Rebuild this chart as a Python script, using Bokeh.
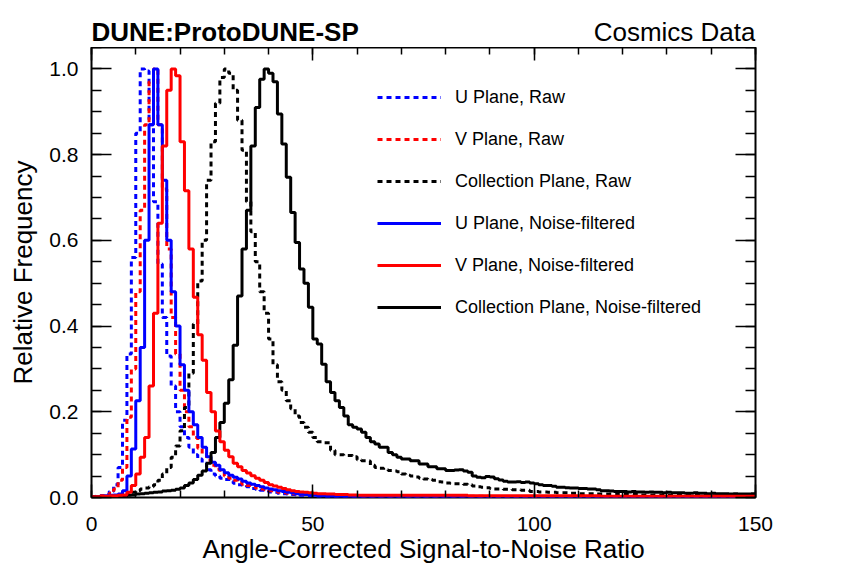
from bokeh.plotting import figure
from bokeh.models import (ColumnDataSource, Legend, LegendItem, LinearAxis, FixedTicker,
                          NumeralTickFormatter, Range1d)
from bokeh.layouts import column
from bokeh.core.properties import value
from bokeh.embed import file_html
from bokeh.resources import INLINE

# ---------------- data (bin width 1, bins 0..149) ----------------
bin_edges = list(range(0, 151))

u_raw = [0.002,0.003,0.004,0.007,0.014,0.03,0.07,0.18,0.335,0.56,
         0.85,1.0,0.995,0.87,0.69,0.545,0.42,0.33,0.26,0.2,
         0.165,0.14,0.117,0.1,0.09,0.08,0.065,0.055,0.05,0.045,
         0.042,0.038,0.033,0.03,0.028,0.025,0.021,0.019,0.017,0.015,
         0.013,0.012,0.01,0.009,0.008,0.007,0.006,0.005,0.004,0.004,
         0.003,0.003,0.002,0.002,0.002,0.001,0.001,0.001,0.001,0.001] + [0.0] * 90

v_raw = [0.002,0.003,0.004,0.006,0.01,0.02,0.04,0.07,0.187,0.3,
         0.48,0.67,0.87,0.97,1.0,0.87,0.72,0.58,0.42,0.335,
         0.25,0.2,0.165,0.14,0.115,0.1,0.087,0.075,0.066,0.058,
         0.05,0.045,0.04,0.035,0.031,0.028,0.025,0.022,0.02,0.018,
         0.016,0.014,0.012,0.011,0.01,0.009,0.008,0.008,0.007,0.007,
         0.006,0.006,0.005,0.005,0.005,0.004,0.004,0.004,0.004,0.004] + [0.003] * 30 + [0.002] * 60

c_raw = [0.001,0.002,0.002,0.003,0.003,0.004,0.004,0.005,0.008,0.012,
         0.016,0.02,0.022,0.025,0.03,0.04,0.055,0.07,0.094,0.12,
         0.156,0.21,0.29,0.405,0.505,0.6,0.74,0.83,0.92,0.98,
         1.0,0.99,0.95,0.88,0.81,0.69,0.62,0.55,0.48,0.43,
         0.37,0.31,0.27,0.25,0.226,0.207,0.19,0.175,0.164,0.152,
         0.14,0.13,0.128,0.128,0.11,0.1,0.1,0.098,0.098,0.095,
         0.088,0.086,0.085,0.075,0.07,0.068,0.065,0.063,0.062,0.06,
         0.055,0.052,0.05,0.048,0.045,0.043,0.042,0.04,0.037,0.036,
         0.034,0.033,0.032,0.032,0.031,0.03,0.027,0.025,0.024,0.023,
         0.021,0.02,0.02,0.019,0.019,0.018,0.018,0.017,0.017,0.014,
         0.014,0.013,0.013,0.012,0.012,0.011,0.011,0.011,0.01,0.01,
         0.009,0.009,0.009,0.009,0.008,0.008,0.008,0.008,0.008,0.007,
         0.007,0.007,0.007,0.007,0.006,0.006,0.006,0.006,0.006,0.006,
         0.005,0.005,0.005,0.005,0.005,0.005,0.005,0.005,0.005,0.005,
         0.004,0.004,0.004,0.004,0.004,0.004,0.004,0.004,0.004,0.004]

u_nf = [0.002,0.002,0.003,0.004,0.005,0.006,0.008,0.016,0.05,0.113,
        0.226,0.35,0.6,0.87,1.0,0.87,0.74,0.6,0.48,0.4,
        0.31,0.25,0.2,0.17,0.14,0.117,0.095,0.082,0.075,0.065,
        0.058,0.052,0.047,0.043,0.038,0.034,0.031,0.028,0.025,0.022,
        0.02,0.018,0.016,0.014,0.012,0.011,0.009,0.008,0.007,0.006,
        0.005,0.004,0.004,0.003,0.003,0.002,0.002,0.001,0.001,0.001] + [0.0] * 90

v_nf = [0.002,0.002,0.003,0.003,0.004,0.004,0.005,0.006,0.012,0.028,
        0.055,0.094,0.14,0.26,0.43,0.64,0.82,0.95,1.0,0.984,
        0.83,0.716,0.58,0.467,0.38,0.32,0.245,0.2,0.155,0.13,
        0.11,0.095,0.08,0.072,0.063,0.057,0.051,0.045,0.04,0.035,
        0.03,0.027,0.024,0.021,0.018,0.016,0.014,0.013,0.012,0.011,
        0.01,0.009,0.009,0.008,0.008,0.007,0.007,0.007,0.006,0.006] + [0.005] * 25 + [0.004] * 30 + [0.003] * 35

c_nf = [0.001,0.001,0.001,0.002,0.002,0.002,0.003,0.003,0.005,0.006,
        0.008,0.009,0.01,0.011,0.012,0.013,0.015,0.016,0.017,0.019,
        0.022,0.028,0.034,0.042,0.052,0.062,0.08,0.105,0.14,0.175,
        0.22,0.275,0.355,0.47,0.58,0.67,0.82,0.91,0.976,1.0,
        0.99,0.97,0.895,0.825,0.747,0.665,0.595,0.533,0.5,0.444,
        0.37,0.358,0.311,0.27,0.245,0.226,0.21,0.19,0.17,0.164,
        0.16,0.152,0.14,0.13,0.125,0.117,0.117,0.105,0.1,0.094,
        0.09,0.09,0.086,0.086,0.078,0.078,0.072,0.072,0.067,0.067,
        0.063,0.063,0.064,0.065,0.062,0.059,0.05,0.047,0.046,0.049,
        0.048,0.044,0.041,0.038,0.036,0.036,0.037,0.035,0.036,0.034,
        0.032,0.03,0.028,0.028,0.026,0.024,0.024,0.023,0.022,0.022,
        0.021,0.021,0.02,0.02,0.018,0.016,0.016,0.015,0.014,0.014,
        0.014,0.013,0.014,0.013,0.013,0.012,0.013,0.012,0.012,0.011,
        0.012,0.011,0.011,0.011,0.01,0.01,0.011,0.01,0.01,0.009,
        0.01,0.009,0.009,0.009,0.008,0.009,0.008,0.008,0.008,0.009]

labels = ["U Plane, Raw", "V Plane, Raw", "Collection Plane, Raw",
          "U Plane, Noise-filtered", "V Plane, Noise-filtered",
          "Collection Plane, Noise-filtered"]
title_left = "DUNE:ProtoDUNE-SP"
title_right = "Cosmics Data"
x_title = "Angle-Corrected Signal-to-Noise Ratio"
y_title = "Relative Frequency"

x_ticks = [0, 50, 100, 150]
x_minor = list(range(0, 151, 10))
y_ticks = [0.0, 0.2, 0.4, 0.6, 0.8, 1.0]
y_minor = [round(i * 0.05, 2) for i in range(0, 22)]

FONT = "Liberation Sans"
W, H_HEAD, H_MAIN = 847, 47, 527

# ---------------- header (titles above the frame) ----------------
head = figure(width=W, height=H_HEAD, output_backend="svg", toolbar_location=None,
              x_range=Range1d(0, 150), y_range=Range1d(0, H_HEAD),
              min_border_left=91, min_border_right=92, min_border_top=0, min_border_bottom=0,
              x_axis_location=None, y_axis_location=None)
head.grid.visible = False
head.outline_line_color = None
head.text(x=[0], y=[16], text=[title_left], text_font=value(FONT), text_font_size="26px",
          text_font_style="bold", text_align="left", text_baseline="middle", text_color="black")
head.text(x=[150], y=[16], text=[title_right], text_font=value(FONT), text_font_size="26px",
          text_align="right", text_baseline="middle", text_color="black")

# ---------------- main plot ----------------
p = figure(width=W, height=H_MAIN, output_backend="svg", toolbar_location=None,
           x_range=Range1d(0, 150), y_range=Range1d(0, 1.05),
           min_border_left=91, min_border_right=92, min_border_top=0,
           min_border_bottom=77, x_axis_location=None, y_axis_location=None)
p.grid.visible = False
p.outline_line_color = "black"
p.outline_line_width = 2

def mk_axis(loc, ticks, minor, major_len, minor_len, show_labels, fmt=None):
    ax = LinearAxis(ticker=FixedTicker(ticks=ticks, minor_ticks=minor))
    ax.axis_line_color = None
    ax.major_tick_in = major_len
    ax.major_tick_out = 0
    ax.minor_tick_in = minor_len
    ax.minor_tick_out = 0
    ax.major_tick_line_color = "black"
    ax.minor_tick_line_color = "black"
    ax.major_tick_line_width = 1.5
    ax.minor_tick_line_width = 1.5
    if fmt is not None:
        ax.formatter = fmt
    if show_labels:
        ax.major_label_text_font = FONT
        ax.major_label_text_font_size = "21px"
        ax.major_label_text_color = "black"
    else:
        ax.major_label_text_font_size = "1px"
        ax.major_label_text_color = None
        ax.major_label_standoff = 0
    p.add_layout(ax, loc)
    return ax

xb = mk_axis("below", x_ticks, x_minor, 13, 7, True)
xb.major_label_standoff = 19
xb.axis_label = x_title
xb.axis_label_text_font = FONT
xb.axis_label_text_font_size = "26px"
xb.axis_label_text_font_style = "normal"
xb.axis_label_text_color = "black"
xb.axis_label_standoff = 0
mk_axis("above", x_ticks, x_minor, 13, 7, False)
yl = mk_axis("left", y_ticks, y_minor, 20, 10, True, NumeralTickFormatter(format="0.0"))
yl.major_label_standoff = 13
yl.axis_label = y_title
yl.axis_label_text_font = FONT
yl.axis_label_text_font_size = "26px"
yl.axis_label_text_font_style = "normal"
yl.axis_label_text_color = "black"
yl.axis_label_standoff = 8
mk_axis("right", y_ticks, y_minor, 20, 10, False)

def step_src(vals):
    return ColumnDataSource(dict(x=bin_edges, y=list(vals) + [vals[-1]]))

DOT = "5 4"
r1 = p.step("x", "y", source=step_src(u_raw), mode="after", line_color="#0000ff", line_width=3, line_dash=DOT)
r2 = p.step("x", "y", source=step_src(v_raw), mode="after", line_color="#ff0000", line_width=3, line_dash=DOT)
r3 = p.step("x", "y", source=step_src(c_raw), mode="after", line_color="black", line_width=3, line_dash=DOT)
r4 = p.step("x", "y", source=step_src(u_nf), mode="after", line_color="#0000ff", line_width=3)
r6 = p.step("x", "y", source=step_src(c_nf), mode="after", line_color="black", line_width=3)
r5 = p.step("x", "y", source=step_src(v_nf), mode="after", line_color="#ff0000", line_width=3)

legend = Legend(items=[LegendItem(label=l, renderers=[r]) for l, r in
                       zip(labels, [r1, r2, r3, r4, r5, r6])],
                location=(286, 179))
legend.padding = 0
legend.margin = 0
legend.spacing = 20
legend.glyph_width = 64
legend.glyph_height = 22
legend.label_height = 22
legend.label_standoff = 14
legend.label_text_font = FONT
legend.label_text_font_size = "18px"
legend.label_text_color = "black"
legend.border_line_color = None
legend.background_fill_alpha = 0
p.add_layout(legend)

layout = column(head, p, spacing=0)
open("out.html", "w").write(file_html(layout, INLINE))
